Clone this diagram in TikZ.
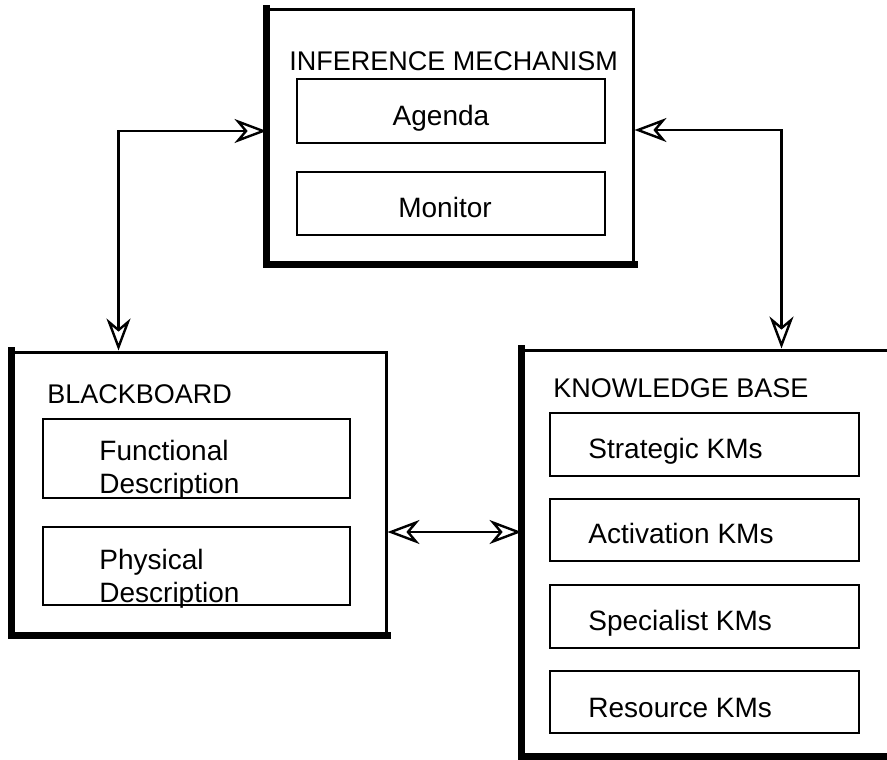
\documentclass[tikz,border=0pt]{standalone}
\usepackage{fontspec}
\setmainfont{Liberation Sans}
\usetikzlibrary{arrows.meta,fit,calc}
\begin{document}
\begin{tikzpicture}[x=0.5pt,y=-0.5pt,
  outerbox/.style={draw,line width=1.5pt,inner sep=0pt},
  innerbox/.style={draw,line width=1.4pt,inner sep=0pt},
  shadow/.style={line width=3.2pt,line cap=rect},
  lbl/.style={inner sep=0pt,font=\fontsize{13.5}{16.5}\selectfont},
  item/.style={inner sep=0pt,font=\fontsize{14}{16.5}\selectfont},
  biarrow/.style={line width=1.2pt,{Stealth[open,length=16pt,width=12pt,inset=5pt]}-{Stealth[open,length=16pt,width=12pt,inset=5pt]}}]
\useasboundingbox (0,0) rectangle (887,759);

% inference mechanism
\node[outerbox,fit={(268,10) (633,263)}] (im) {};
\draw[shadow] (im.north west) -- (im.south west) -- (im.south east);
\node[lbl,anchor=base west] (imtitle) at (289,71) {INFERENCE MECHANISM};
\node[innerbox,fit={(297,79) (605,143)}] (agbox) {};
\node[item,anchor=base] (agenda) at (441,126) {Agenda};
\node[innerbox,fit={(297,172) (605,235)}] (mobox) {};
\node[item,anchor=base] (monitor) at (445,218) {Monitor};

% blackboard
\node[outerbox,fit={(13,352) (386,634)}] (bb) {};
\draw[shadow] (bb.north west) -- (bb.south west) -- (bb.south east);
\node[lbl,anchor=base west] (bbtitle) at (47,403) {BLACKBOARD};
\node[innerbox,fit={(43,419) (350,498)}] (fdbox) {};
\node[item,anchor=base west,align=left] (funcdesc) at (99,493) {Functional\\Description};
\node[innerbox,fit={(43,527) (350,605)}] (pdbox) {};
\node[item,anchor=base west,align=left] (physdesc) at (99,602) {Physical\\Description};

% knowledge base
\node[outerbox,fit={(523,350) (900,755)}] (kb) {};
\draw[shadow] (kb.north west) -- (kb.south west) -- (kb.south east);
\node[lbl,anchor=base west] (kbtitle) at (553,397) {KNOWLEDGE BASE};
\node[innerbox,fit={(550,413) (859,476)}] (stbox) {};
\node[item,anchor=base west] (strategic) at (588,458) {Strategic KMs};
\node[innerbox,fit={(550,499) (859,561)}] (acbox) {};
\node[item,anchor=base west] (activation) at (588,543) {Activation KMs};
\node[innerbox,fit={(550,585) (859,648)}] (spbox) {};
\node[item,anchor=base west] (specialist) at (588,630) {Specialist KMs};
\node[innerbox,fit={(550,671) (859,733)}] (rebox) {};
\node[item,anchor=base west] (resource) at (588,717) {Resource KMs};

% connections
\draw[biarrow] ([yshift=2.75pt]im.west) -| ($(bb.north west)+(107,0)$);
\draw[biarrow] ([yshift=3.25pt]im.east) -| ($(kb.north west)+(260,0)$);
\draw[biarrow] ([yshift=-19.5pt]bb.east) -- ([yshift=10.25pt]kb.west);

\end{tikzpicture}
\end{document}
